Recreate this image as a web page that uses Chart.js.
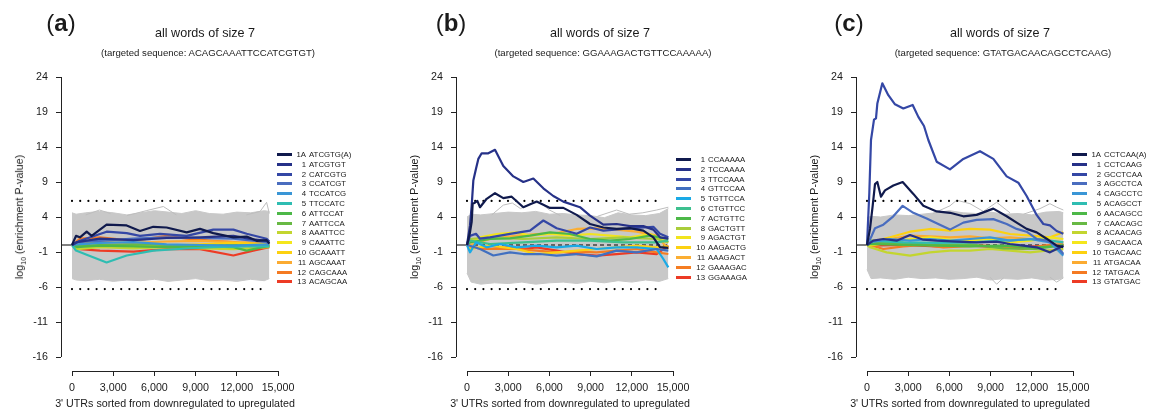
<!DOCTYPE html>
<html>
<head>
<meta charset="utf-8">
<script src="https://cdn.jsdelivr.net/npm/chart.js@4.4.1/dist/chart.umd.min.js"></script>
<style>
  body { margin: 0; background: #fff; width: 1155px; height: 414px; position: relative; overflow: hidden;
         font-family: 'Liberation Sans', Arial, Helvetica, sans-serif; color: #1a1a1a; }
  canvas { position: absolute; top: 0; }
  .t { position: absolute; white-space: nowrap; transform: translate(-50%, -50%); }
  .tag { font-size: 24px; }
  .tag b { font-weight: bold; }
  .title { font-size: 12.6px; }
  .sub { font-size: 9.6px; }
  .xt { font-size: 10.7px; }
  .yt { font-size: 10.7px; transform: translate(-50%, -50%) rotate(-90deg); }
  .yt sub { font-size: 7px; }
  .leg { position: absolute; height: 10px; display: flex; align-items: center; font-size: 7.8px; white-space: nowrap; }
  .leg .ln { width: 15px; height: 3px; }
  .leg .num { width: 14px; text-align: right; }
  .leg .wd { margin-left: 3px; }
</style>
</head>
<body>
<canvas id="ca" width="360" height="414" style="left:0px"></canvas>
<canvas id="cb" width="360" height="414" style="left:395px"></canvas>
<canvas id="cc" width="360" height="414" style="left:795px"></canvas>
<script>
const xTicks = [0, 3000, 6000, 9000, 12000, 15000];
const yTicks = [-16, -11, -6, -1, 4, 9, 14, 19, 24];
const threshold = 6.3;

const targetA = 'ACAGCAAATTCCATCGTGT';
const targetB = 'GGAAAGACTGTTCCAAAAA';
const targetC = 'GTATGACAACAGCCTCAAG';

const wordsA = ['1A ATCGTG(A)', '1 ATCGTGT', '2 CATCGTG', '3 CCATCGT', '4 TCCATCG', '5 TTCCATC', '6 ATTCCAT',
  '7 AATTCCA', '8 AAATTCC', '9 CAAATTC', '10 GCAAATT', '11 AGCAAAT', '12 CAGCAAA', '13 ACAGCAA'];
const wordsB = ['1 CCAAAAA', '2 TCCAAAA', '3 TTCCAAA', '4 GTTCCAA', '5 TGTTCCA', '6 CTGTTCC', '7 ACTGTTC',
  '8 GACTGTT', '9 AGACTGT', '10 AAGACTG', '11 AAAGACT', '12 GAAAGAC', '13 GGAAAGA'];
const wordsC = ['1A CCTCAA(A)', '1 CCTCAAG', '2 GCCTCAA', '3 AGCCTCA', '4 CAGCCTC', '5 ACAGCCT', '6 AACAGCC',
  '7 CAACAGC', '8 ACAACAG', '9 GACAACA', '10 TGACAAC', '11 ATGACAA', '12 TATGACA', '13 GTATGAC'];

const colorsAC = ['#101a4d', '#263188', '#3447a5', '#4a6dbf', '#3a96d6', '#2fbdb2', '#4db848', '#68b944',
  '#c3d52f', '#f4e61c', '#fcd110', '#fbab31', '#f47a22', '#ed3b25'];
const colorsB = ['#101a4d', '#263188', '#3447a5', '#4170c0', '#1aaae6', '#3ec08e', '#4db848', '#a9cd3b',
  '#f2e41e', '#fcd112', '#fbae33', '#f57d22', '#ec3b25'];

// panel (a) enrichment curves, [position, log10 P]
const seriesA = [
  [[0,0],[290,1.3],[580,1.1],[1070,1.9],[1430,1.3],[2520,2.9],[3980,2.8],[4950,2.0],[5920,2.6],[6890,2.5],[8350,1.8],[9320,2.3],[10290,1.7],[11750,1.1],[12720,1.2],[13450,0.6],[14170,0.7],[14370,0.2]],
  [[0,0],[340,0.4],[2040,0.9],[4470,0.7],[6890,1.0],[9320,1.1],[11750,1.3],[13200,0.8],[14170,0.6],[14370,0.3]],
  [[0,0],[580,0.6],[2520,1.9],[3980,1.7],[4950,1.3],[6410,1.6],[8350,1.3],[10290,2.2],[11750,2.2],[12720,1.6],[14170,0.9],[14370,0.5]],
  [[0,0],[340,0.4],[2040,0.6],[4470,0.9],[6890,1.1],[9320,1.0],[11750,0.9],[14170,0.4],[14370,0.2]],
  [[0,0],[340,0.1],[2040,0.3],[4470,0.4],[6890,0.1],[9320,0.0],[11750,-0.1],[14370,0.1]],
  [[0,0],[290,-0.8],[1070,-1.4],[2520,-2.5],[3980,-1.5],[5920,-0.8],[8350,-0.5],[10290,-0.3],[12720,-0.2],[14370,-0.2]],
  [[0,0],[340,-0.3],[2040,-0.1],[4470,-0.2],[6890,-0.3],[9320,-0.2],[11750,-0.3],[12720,-0.8],[14370,-0.1]],
  [[0,0],[340,-0.1],[2040,0.0],[4470,0.1],[6890,0.0],[9320,-0.1],[11750,0.0],[14370,-0.2]],
  [[0,0],[340,-0.6],[2040,-0.3],[4470,-0.5],[6890,-0.3],[9320,-0.5],[11750,-0.6],[14370,-0.3]],
  [[0,0],[340,0.0],[1070,0.4],[2040,-0.1],[4470,-0.3],[6890,-0.2],[9320,-0.1],[11750,-0.2],[14370,0.0]],
  [[0,0],[340,-0.1],[2040,-0.2],[4470,0.0],[6890,-0.1],[9320,0.1],[11750,0.3],[14370,0.1]],
  [[0,0],[340,0.1],[2040,0.4],[4470,0.3],[6890,0.5],[9320,0.6],[11750,0.4],[14370,0.3]],
  [[0,0],[580,0.9],[2040,1.1],[4470,0.6],[6890,1.3],[8350,0.9],[10290,0.6],[11750,0.4],[13200,0.0],[14370,0.1]],
  [[0,0],[340,-0.57],[2040,-0.8],[4470,-0.95],[6890,-0.6],[9320,-0.6],[11750,-1.5],[13200,-0.8],[14370,-0.3]]
];

const seriesB = [
  [[0,0],[218,1.8],[340,3.3],[413,5.9],[534,6.0],[752,6.3],[947,5.4],[1432,6.6],[2039,7.4],[2645,6.7],[3252,6.9],[4102,5.4],[5072,6.2],[6043,5.3],[7014,5.3],[7985,4.3],[8956,3.0],[9926,2.5],[10897,2.3],[11868,2.4],[12839,2.05],[13567,1.1],[14053,-0.3],[14660,-0.4]],
  [[0,0],[218,2.8],[340,5.6],[461,9.2],[655,10.9],[825,12.3],[1068,13.1],[1553,13.1],[2039,13.6],[2645,11.3],[3374,9.8],[4102,9.0],[4830,9.5],[5558,8.1],[6286,7.0],[7014,6.2],[8228,5.4],[8956,4.2],[9926,2.9],[10897,3.0],[11868,2.7],[12839,2.7],[13567,2.2],[14053,1.1],[14660,0.9]],
  [[0,0],[218,1.3],[655,1.6],[947,0.9],[1675,1.1],[3131,1.6],[4587,2.05],[5558,3.5],[6529,2.4],[7985,1.6],[8956,2.5],[9926,2.05],[11383,2.3],[12839,2.5],[13567,2.6],[14053,1.6],[14660,1.1]],
  [[0,0],[218,-0.1],[947,-0.57],[1917,-1.5],[3131,-1.05],[4102,-1.29],[5315,-1.29],[6529,-1.52],[7985,-1.29],[9441,-1.62],[10897,-0.81],[12353,-1.05],[13810,-0.57],[14660,-0.81]],
  [[0,0],[218,-1.05],[655,0.38],[1432,-0.33],[2403,0.14],[3616,-0.33],[5072,-0.1],[6529,-0.33],[7985,-0.1],[9441,-0.57],[10897,-0.33],[12353,-0.33],[13810,-0.57],[14296,-2.0],[14660,-3.2]],
  [[0,0],[218,0.62],[1675,0.14],[4102,0.38],[6529,0.62],[8956,0.62],[11383,0.38],[13810,0.38],[14660,0.62]],
  [[0,0],[218,0.38],[1675,0.86],[3131,0.95],[4587,1.33],[6043,1.81],[7499,1.57],[8956,0.86],[10412,0.62],[11868,0.86],[13324,1.33],[14660,0.86]],
  [[0,0],[218,0.86],[1675,1.1],[4102,0.86],[6529,1.1],[8956,0.86],[11383,1.1],[13810,0.86],[14660,0.38]],
  [[0,0],[218,0.38],[947,1.1],[2160,1.57],[3616,1.81],[4587,1.33],[6043,1.57],[7499,1.33],[8956,1.57],[10412,1.33],[11868,1.1],[13324,1.57],[14053,0.86],[14660,0.38]],
  [[0,0],[218,-0.57],[1675,-0.1],[3616,-0.57],[5072,-1.29],[6529,-1.05],[7985,-0.81],[9441,-0.57],[10897,-0.33],[12353,-0.1],[13810,-0.33],[14660,-0.2]],
  [[0,0],[218,0.0],[1675,0.86],[3616,1.33],[5072,1.57],[6529,1.71],[7985,2.29],[9441,2.38],[10897,2.19],[12353,1.9],[13810,1.33],[14660,-0.57]],
  [[0,0],[218,-0.33],[1675,-0.57],[3616,-0.57],[5072,-0.81],[6529,-1.05],[7985,-0.95],[9441,-1.05],[10897,-0.81],[12353,-0.57],[13810,-1.05],[14660,-1.29]],
  [[0,0],[218,-0.33],[1675,-0.57],[2888,-0.33],[4102,-0.57],[5072,-0.33],[6529,-0.81],[7985,-1.29],[9441,-1.52],[10897,-1.29],[12353,-1.05],[13810,-1.29],[14660,-0.1]]
];

const seriesC = [
  [[0,0],[218,2.3],[413,5.6],[582,8.7],[752,9.0],[1019,6.9],[1311,7.8],[1917,8.5],[2597,9.0],[3374,7.3],[4102,5.6],[5072,4.8],[6043,4.6],[7014,4.1],[7985,4.3],[9198,5.2],[10169,4.1],[10897,3.2],[11625,2.3],[12353,1.8],[13081,0.9],[13810,-0.1],[14296,-0.3]],
  [[0,0],[461,0.62],[1189,0.86],[2160,0.62],[3131,1.43],[4102,0.76],[5072,0.62],[6529,0.48],[7985,0.38],[9441,0.48],[10412,0.14],[11383,-0.1],[12353,-0.33],[13324,-1.05],[14296,-0.1]],
  [[0,0],[170,7.5],[291,15.0],[510,17.9],[655,18.1],[752,20.2],[1116,23.1],[1553,21.4],[2039,20.1],[2645,19.5],[3325,20.0],[3738,18.3],[4150,17.0],[4466,15.0],[5072,11.9],[6043,10.8],[7014,12.3],[8228,13.4],[9198,12.3],[10169,9.8],[11019,8.9],[11625,7.0],[12353,4.3],[12839,3.0],[13324,2.8],[13810,2.0],[14296,1.6]],
  [[0,0],[340,1.3],[582,2.4],[1189,2.9],[1917,4.1],[2597,5.6],[3374,4.6],[4344,3.8],[5072,3.1],[6043,2.2],[7014,3.2],[7985,3.6],[9198,3.7],[10169,3.0],[10897,2.3],[11625,1.9],[12353,0.86],[13081,0.62],[13810,-0.1],[14296,-1.29]],
  [[0,0],[218,0.38],[1675,0.86],[3131,0.62],[4587,0.86],[6043,0.62],[7499,0.86],[8956,1.1],[10412,0.62],[11868,0.86],[13324,0.38],[14296,-1.52]],
  [[0,0],[218,0.62],[2645,0.38],[5072,0.29],[7499,0.38],[9926,0.62],[12353,0.86],[14296,0.38]],
  [[0,0],[218,0.14],[2645,0.0],[5072,-0.1],[7499,-0.19],[9926,-0.1],[12353,-0.33],[14296,-0.1]],
  [[0,0],[218,0.29],[2645,0.29],[5072,0.0],[7499,0.1],[9926,-0.48],[12353,-0.57],[14296,0.0]],
  [[0,0],[218,-0.33],[1432,-1.05],[3131,-1.52],[4587,-1.05],[6043,-0.81],[7499,-0.81],[8956,-0.57],[10412,-0.81],[11868,-1.05],[13081,-0.81],[14296,-0.6]],
  [[0,0],[218,-0.1],[1675,0.38],[3131,0.86],[4587,1.1],[6043,0.76],[7499,0.62],[8956,0.86],[10412,0.38],[11868,0.62],[13324,1.1],[14296,0.86]],
  [[0,0],[218,0.38],[1675,1.1],[3131,1.9],[4587,2.29],[6043,2.05],[7499,2.29],[8956,2.19],[10412,1.57],[11868,1.33],[13324,1.1],[14296,1.81]],
  [[0,0],[218,0.62],[1675,0.86],[3131,1.33],[4587,1.24],[6043,1.1],[7499,1.24],[8956,0.95],[10412,1.1],[11868,0.86],[13324,0.62],[14296,0.38]],
  [[0,0],[218,0.0],[1189,-0.57],[2645,-0.19],[4102,0.0],[5558,-0.33],[7014,-0.19],[8470,-0.1],[9926,-0.33],[11383,-0.57],[12839,-0.1],[14296,0.14]],
  [[0,0],[218,-0.1],[2645,0.0],[5072,-0.19],[7499,-0.1],[9926,-0.33],[12353,-0.19],[14296,0.0]]
];

// grey cloud of all other words: upper / lower envelope plus a few stray lines
const bandXA = [0,300,1000,2000,3000,4000,5000,6000,7000,8000,9000,10000,11000,12000,13000,14000,14370];
const upperA = [4.6,4.4,4.6,4.8,4.6,4.3,4.6,4.9,4.7,4.5,4.9,4.5,4.4,4.7,4.6,4.9,4.8];
const lowerA = [-4.8,-5.0,-5.1,-4.9,-5.2,-5.0,-5.1,-4.9,-5.2,-5.0,-4.8,-5.1,-5.0,-5.2,-4.9,-5.1,-4.8];
const bandXB = [0,300,1000,2000,3000,4000,5000,6000,7000,8000,9000,10000,11000,12000,13000,14000,14660];
const upperB = [4.0,4.4,4.3,4.5,4.7,4.6,4.8,4.4,4.5,4.3,4.2,3.9,4.6,4.3,4.2,4.5,5.2];
const lowerB = [-4.0,-5.3,-5.6,-5.4,-5.5,-5.3,-5.6,-5.4,-5.3,-5.5,-5.2,-5.4,-5.1,-5.3,-5.0,-5.2,-4.8];
const bandXC = [0,300,1000,2000,3000,4000,5000,6000,7000,8000,9000,10000,11000,12000,13000,14000,14296];
const upperC = [3.9,4.1,4.0,4.3,4.2,4.4,4.6,4.9,4.6,4.5,4.7,4.4,4.5,4.3,4.7,4.8,4.6];
const lowerC = [-3.5,-4.8,-4.7,-4.9,-4.6,-4.8,-4.7,-4.9,-4.8,-4.6,-5.0,-4.8,-4.9,-4.7,-5.0,-4.9,-4.6];

const strayA = [
  [[4000,4.2],[5400,4.9],[6650,5.5],[7600,4.3]],
  [[12700,4.3],[13700,4.8],[14170,6.1],[14370,4.5]],
  [[1000,4.3],[2000,5.0],[2800,4.5]]
];
const strayB = [
  [[1800,4.3],[2645,5.7],[3300,6.0],[3900,5.2],[4600,5.9],[5300,6.1],[6000,5.0],[6800,4.2]],
  [[9500,4.1],[10897,5.0],[11800,4.4],[12800,4.6],[13810,5.0],[14660,5.4]]
];
const strayC = [
  [[4800,4.5],[6043,5.6],[6529,6.4],[7499,5.9],[8470,4.8],[9441,6.1],[10412,4.6]],
  [[11400,4.4],[12600,5.2],[13324,5.9],[13810,5.4],[14296,5.0]],
  [[8956,-4.6],[9441,-5.6],[9926,-4.7]],
  [[13324,-4.6],[13810,-5.3],[14296,-4.7]]
];

const panels = [
  { id: 'ca', off: 0, tag: 'a', tagX: 45, target: targetA, words: wordsA, colors: colorsAC, series: seriesA,
    bandX: bandXA, upper: upperA, lower: lowerA, stray: strayA, legX: 277, legY: 154 },
  { id: 'cb', off: 395, tag: 'b', tagX: 435, target: targetB, words: wordsB, colors: colorsB, series: seriesB,
    bandX: bandXB, upper: upperB, lower: lowerB, stray: strayB, legX: 676, legY: 159 },
  { id: 'cc', off: 795, tag: 'c', tagX: 833, target: targetC, words: wordsC, colors: colorsAC, series: seriesC,
    bandX: bandXC, upper: upperC, lower: lowerC, stray: strayC, legX: 1072, legY: 154 }
];

const pts = arr => arr.map(p => ({ x: p[0], y: p[1] }));
const grey = '#c8c8c8';

// R-style axis lines: y from -16 to 24, x from 0 to 15,000
const axisLines = {
  id: 'axisLines',
  afterDraw(chart) {
    const { ctx, scales: { x, y }, chartArea } = chart;
    const left = Math.round(chartArea.left) + 0.5;
    const bottom = Math.round(chartArea.bottom) + 0.5;
    ctx.save();
    ctx.strokeStyle = '#222';
    ctx.lineWidth = 1;
    ctx.beginPath();
    ctx.moveTo(left, y.getPixelForValue(yTicks[0]));
    ctx.lineTo(left, y.getPixelForValue(yTicks[yTicks.length - 1]));
    ctx.moveTo(x.getPixelForValue(xTicks[0]), bottom);
    ctx.lineTo(x.getPixelForValue(xTicks[xTicks.length - 1]), bottom);
    ctx.stroke();
    ctx.restore();
  }
};

function addText(cls, html, left, top) {
  const d = document.createElement('div');
  d.className = 't ' + cls;
  d.innerHTML = html;
  d.style.left = left + 'px';
  d.style.top = top + 'px';
  document.body.appendChild(d);
}

panels.forEach(p => {
  const datasets = [];
  p.series.forEach((s, i) => {
    datasets.push({ data: pts(s), borderColor: p.colors[i], borderWidth: 2.2, pointRadius: 0,
      fill: false, order: i, borderJoinStyle: 'round' });
  });
  const end = p.bandX[p.bandX.length - 1];
  [threshold, -threshold].forEach(t => {
    datasets.push({ data: [{ x: 0, y: t }, { x: 14300, y: t }], borderColor: '#000', borderWidth: 2.2,
      borderDash: [0, 8.2], borderCapStyle: 'round', pointRadius: 0, fill: false, order: 40 });
  });
  datasets.push({ data: [{ x: -801, y: 0 }, { x: 0, y: 0 }], borderColor: '#000', borderWidth: 1,
    pointRadius: 0, fill: false, order: 41 });
  datasets.push({ data: [{ x: 0, y: 0 }, { x: end, y: 0 }], borderColor: '#000', borderWidth: 1,
    borderDash: [4, 3], pointRadius: 0, fill: false, order: 41 });
  p.stray.forEach(s => {
    datasets.push({ data: pts(s), borderColor: '#bdbdbd', borderWidth: 1, pointRadius: 0, fill: false, order: 90 });
  });
  datasets.push({ data: p.bandX.map((x, i) => ({ x, y: p.upper[i] })), borderColor: grey, backgroundColor: grey,
    borderWidth: 1, pointRadius: 0, fill: '+1', order: 100 });
  datasets.push({ data: p.bandX.map((x, i) => ({ x, y: p.lower[i] })), borderColor: grey,
    borderWidth: 1, pointRadius: 0, fill: false, order: 101 });

  new Chart(document.getElementById(p.id), {
    type: 'line',
    data: { datasets },
    options: {
      responsive: false,
      animation: false,
      events: [],
      layout: { padding: { left: 0, top: 77, right: 82, bottom: 0 } },
      plugins: { legend: { display: false }, tooltip: { enabled: false } },
      scales: {
        x: {
          type: 'linear', min: -801, max: 15000,
          border: { display: false },
          grid: { drawOnChartArea: false, tickLength: 5, color: '#222', tickColor: '#222' },
          ticks: { padding: 6, color: '#1a1a1a', maxRotation: 0, autoSkip: false,
            font: { family: "'Liberation Sans', Arial, sans-serif", size: 10.7 },
            callback: v => v.toLocaleString('en-US') },
          afterBuildTicks: ax => { ax.ticks = xTicks.map(v => ({ value: v })); },
          afterFit: s => { s.height = 43; }
        },
        y: {
          type: 'linear', min: -18, max: 24,
          border: { display: false },
          grid: { drawOnChartArea: false, tickLength: 5, color: '#222', tickColor: '#222' },
          ticks: { padding: 8, color: '#1a1a1a', autoSkip: false,
            font: { family: "'Liberation Sans', Arial, sans-serif", size: 10.7 } },
          afterBuildTicks: ax => { ax.ticks = yTicks.map(v => ({ value: v })); },
          afterFit: s => { s.width = 61; }
        }
      }
    },
    plugins: [axisLines]
  });

  addText('tag', '(<b>' + p.tag + '</b>)', p.tagX + 16, 23);
  addText('title', 'all words of size 7', p.off + 205, 33);
  addText('sub', '(targeted sequence: ' + p.target + ')', p.off + 208, 52);
  addText('xt', "3' UTRs sorted from downregulated to upregulated", p.off + 175, 403);
  addText('yt', 'log<sub>10</sub> (enrichment P-value)', p.off + 20, 217);

  p.words.forEach((w, i) => {
    const k = w.indexOf(' ');
    const row = document.createElement('div');
    row.className = 'leg';
    row.style.left = p.legX + 'px';
    row.style.top = Math.round(p.legY + i * 9.8 - 5) + 'px';
    row.innerHTML = '<span class="ln" style="background:' + p.colors[i] + '"></span>' +
      '<span class="num">' + w.slice(0, k) + '</span><span class="wd">' + w.slice(k + 1) + '</span>';
    document.body.appendChild(row);
  });
});
</script>
</body>
</html>
